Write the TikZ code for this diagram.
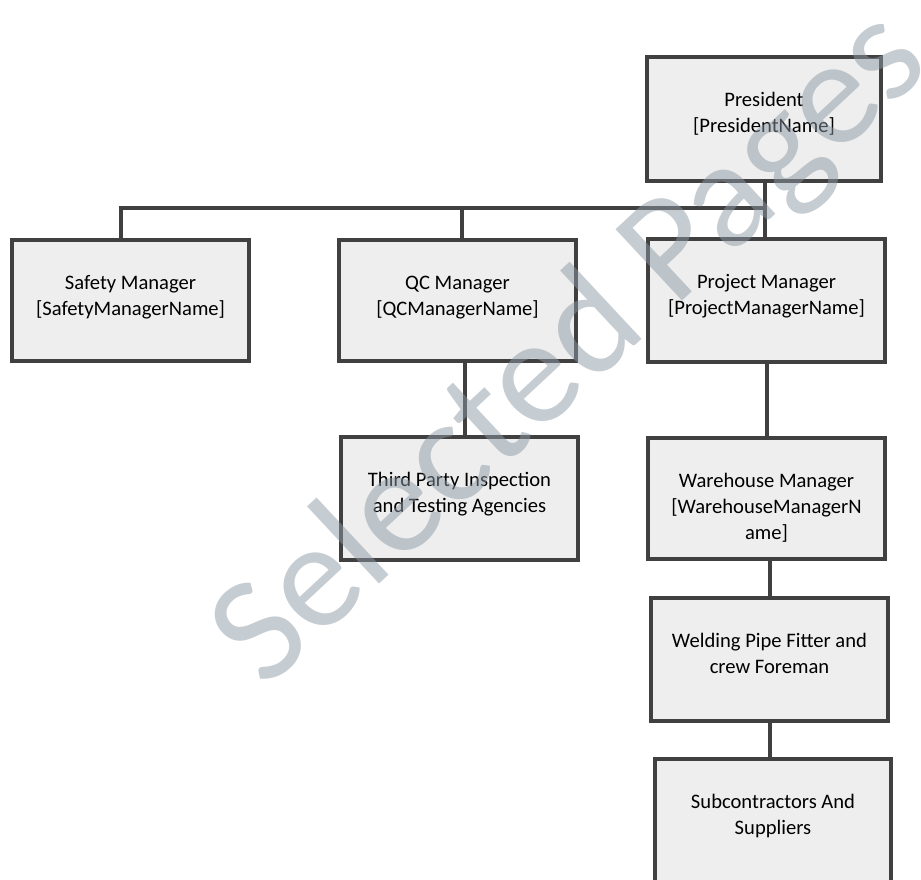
\documentclass[tikz,border=0pt]{standalone}
\usepackage{fontspec}
\setmainfont{Carlito}
\definecolor{linec}{HTML}{404040}
\definecolor{boxfill}{HTML}{EEEEEE}
\definecolor{wmc}{RGB}{140,153,165}
\tikzset{
  box/.style={draw=linec, line width=4pt, fill=boxfill, rectangle, inner sep=0pt},
  conn/.style={draw=linec, line width=4pt},
  lbl/.style={font=\fontsize{20.6}{26}\selectfont, align=center, anchor=north, inner sep=0pt, text=black},
}
\newcommand{\fl}{\rule{0pt}{15.5pt}}
\begin{document}
\begin{tikzpicture}[x=1pt,y=-1pt]
\useasboundingbox (0,0) rectangle (921,880);
\clip (0,0) rectangle (921,880);
% boxes
\node[box, minimum width=234pt, minimum height=124pt] (pres) at (764,119) {};
\node[box, minimum width=237pt, minimum height=121pt] (safety) at (130.5,300.5) {};
\node[box, minimum width=237pt, minimum height=121pt] (qc) at (457.5,300.5) {};
\node[box, minimum width=237pt, minimum height=123pt] (third) at (459.5,498.5) {};
\node[box, minimum width=237pt, minimum height=123pt] (pm) at (766.5,300.5) {};
\node[box, minimum width=237pt, minimum height=121pt] (wh) at (766.5,498.5) {};
\node[box, minimum width=237pt, minimum height=123pt] (weld) at (769.5,659.5) {};
\node[box, minimum width=236pt, minimum height=141pt] (sub) at (773,829.5) {};
% connectors
\coordinate (busL) at (121,208);
\coordinate (busR) at (765,208);
\coordinate (qcT) at (462,208);
\coordinate (qcB) at (465,0);
\draw[conn] (pres.south -| busR) -- (pm.north -| busR);
\draw[conn] (safety.north -| busL) -- (busL) -- (busR);
\draw[conn] (qcT) -- (qcT |- qc.north);
\draw[conn] (qc.south -| qcB) -- (third.north -| qcB);
\draw[conn] (pm.south) -- (pm.south |- wh.north);
\draw[conn] (wh.south -| weld.north) -- (weld.north);
\draw[conn] (weld.south) -- (weld.south |- sub.north);
% labels
\node[lbl] (tpres) at ([yshift=-36pt]pres.north) {\fl President\\{}[PresidentName]};
\node[lbl] (tsafety) at ([yshift=-36pt]safety.north) {\fl Safety Manager\\{}[SafetyManagerName]};
\node[lbl] (tqc) at ([yshift=-36pt]qc.north) {\fl QC Manager\\{}[QCManagerName]};
\node[lbl] (tthird) at ([yshift=-36pt]third.north) {\fl Third Party Inspection\\and Testing Agencies};
\node[lbl] (tpm) at ([yshift=-36pt]pm.north) {\fl Project Manager\\{}[ProjectManagerName]};
\node[lbl] (twh) at ([yshift=-36pt]wh.north) {\fl Warehouse Manager\\{}[WarehouseManagerN\\ame]};
\node[lbl] (tweld) at ([yshift=-36pt]weld.north) {\fl Welding Pipe Fitter and\\crew Foreman};
\node[lbl] (tsub) at ([yshift=-36pt]sub.north) {\fl Subcontractors And\\Suppliers};
% watermark
\node[font=\fontsize{152}{152}\selectfont, text=wmc, text opacity=0.5, rotate=43, inner sep=0pt] (wm) at (572,350) {Selected Pages};
\end{tikzpicture}
\end{document}
